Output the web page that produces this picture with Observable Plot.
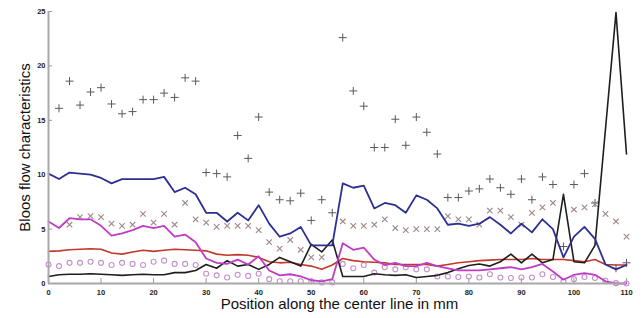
<!DOCTYPE html>
<html>
<head>
<meta charset="utf-8">
<script src="https://cdn.jsdelivr.net/npm/d3@7"></script>
<script src="https://cdn.jsdelivr.net/npm/@observablehq/plot@0.6"></script>
<style>
  html, body { margin: 0; padding: 0; background: #fff; }
</style>
</head>
<body>
<div id="chart"></div>
<script>
const positions = [0,2,4,6,8,10,12,14,16,18,20,22,24,26,28,30,32,34,36,38,40,42,44,46,48,50,52,54,56,58,60,62,64,66,68,70,72,74,76,78,80,82,84,86,88,90,92,94,96,98,100,102,104,106,108,110];

const blueLine = [10.1,9.6,10.2,10.1,10.0,9.7,9.2,9.6,9.6,9.6,9.6,9.8,8.4,8.8,8.2,6.5,6.5,5.7,6.5,5.8,7.2,5.5,4.3,4.6,5.2,3.5,3.5,3.5,9.2,8.8,9.0,6.9,7.4,7.2,6.5,8.1,7.7,6.9,5.4,5.5,5.3,5.5,6.1,5.4,4.6,5.5,4.7,5.9,5.0,2.4,4.3,5.2,4.1,1.75,1.3,1.7];

const magentaLine = [5.7,5.1,6.0,5.9,5.9,5.3,4.4,4.6,4.9,5.3,5.1,5.3,4.3,4.5,3.8,2.3,1.9,1.8,2.2,1.75,2.5,1.2,0.75,0.85,0.65,0.3,0.2,0.4,3.7,3.1,3.3,2.2,1.7,1.9,1.6,1.6,1.9,1.6,1.4,1.2,1.2,1.2,1.3,1.4,1.5,1.3,1.5,1.8,1.1,0.35,0.8,0.95,0.8,0.2,0.0,0.0];

const redLine = [2.95,3.0,3.1,3.15,3.2,3.15,2.8,2.7,2.9,3.05,2.95,3.05,3.15,3.1,3.05,3.0,2.7,2.6,2.65,2.6,2.4,2.0,1.9,1.95,1.75,1.6,1.3,1.7,2.3,2.1,2.0,1.95,1.9,1.75,1.75,1.75,1.75,1.6,1.75,1.9,2.0,2.1,2.15,2.2,2.2,2.2,2.3,2.2,2.2,2.2,2.1,2.0,2.2,1.75,1.7,1.7];

const blackLine = [0.65,0.8,0.85,0.85,0.9,0.85,0.8,0.75,0.8,0.85,0.8,0.8,1.0,1.0,1.2,1.75,1.4,2.1,1.6,1.75,1.3,1.75,2.4,2.0,1.6,3.6,2.9,4.0,0.65,0.65,0.65,0.9,0.8,0.75,0.8,0.55,0.65,0.75,1.0,1.35,1.65,1.8,1.6,2.0,2.7,1.9,2.7,1.9,2.2,8.2,2.0,1.9,3.5,14.2,24.9,11.9];

const circleValues = [1.75,1.6,1.9,1.9,2.0,1.9,1.7,1.9,1.8,1.7,2.0,2.1,1.8,1.8,1.7,0.9,0.75,0.55,0.8,0.7,0.9,0.4,0.2,0.2,0.2,0.2,0.1,0.1,1.8,1.4,1.7,1.0,1.5,1.3,1.5,1.3,1.3,0.65,0.65,0.6,0.65,0.55,0.85,0.55,0.5,0.55,0.55,0.85,0.6,0.2,0.4,0.6,0.5,0.25,0.03,0.0];

const plusPositions = [2,4,6,8,10,12,14,16,18,20,22,24,26,28,30,32,34,36,38,40,42,44,46,48,50,52,54,56,58,60,62,64,66,68,70,72,74,76,78,80,82,84,86,88,90,92,94,96,98,100,102,104,108,110];
const plusValues = [16.1,18.6,16.4,17.6,18.0,16.5,15.6,15.8,16.9,16.9,17.5,17.1,18.9,18.6,10.2,10.1,9.8,13.6,11.5,15.3,8.4,7.7,7.6,8.3,5.8,7.7,6.5,22.6,17.7,16.3,12.5,12.5,15.1,12.7,15.3,13.9,11.9,7.9,7.9,8.5,8.7,9.6,8.8,8.2,9.6,7.7,9.8,9.1,3.4,9.1,10.1,7.4,1.4,1.9];

const timesPositions = [4,6,8,10,12,14,16,18,20,22,24,26,28,30,32,34,36,38,40,42,44,46,48,50,52,56,58,60,62,64,66,68,70,72,74,76,78,80,82,84,86,88,90,92,94,96,100,102,104,106,108,110];
const timesValues = [5.4,6.1,6.2,6.1,5.5,5.3,5.4,6.4,5.6,6.4,5.4,7.4,5.9,5.6,5.2,5.3,5.3,5.3,4.9,3.8,3.2,4.0,3.1,2.4,2.4,5.7,5.3,5.3,5.4,5.9,5.1,4.9,5.0,5.0,5.0,6.2,5.9,5.9,5.4,6.7,6.7,6.1,5.4,6.5,7.0,7.4,6.8,7.0,7.3,6.4,5.7,4.3];

const xTicks = [0,10,20,30,40,50,60,70,80,90,100,110];
const yTicks = [0,5,10,15,20,25];
const xLabel = "Position along the center line in mm";
const yLabel = "Bloos flow characteristics";

const lineRows = (vals) => positions.map((p, i) => ({x: p, y: vals[i]}));
const ptRows = (ps, vals) => ps.map((p, i) => ({x: p, y: vals[i]}));

const chart = Plot.plot({
  width: 642,
  height: 318,
  marginLeft: 48,
  marginRight: 16,
  marginTop: 11,
  marginBottom: 35,
  x: {domain: [0, 110]},
  y: {domain: [0, 25]},
  style: {fontFamily: "'Liberation Sans', Arial, sans-serif", background: "#fff", color: "#111", overflow: "visible"},
  marks: [
    Plot.axisX({ticks: xTicks, tickSize: -5, tickPadding: 11, fontSize: 7.5, fontWeight: "bold", stroke: "#999", fill: "#222", label: null, tickFormat: d => String(d)}),
    Plot.axisY({ticks: yTicks, tickSize: -4, tickPadding: 7, fontSize: 7.5, fontWeight: "bold", stroke: "#999", fill: "#222", label: null, tickFormat: d => String(d)}),
    Plot.dot(ptRows(plusPositions, plusValues), {x: "x", y: "y", symbol: "plus", r: 2.7, stroke: "#5a5a5a", strokeWidth: 1}),
    Plot.dot(ptRows(timesPositions, timesValues), {x: "x", y: "y", symbol: "times", r: 2.6, stroke: "#a08686", strokeWidth: 1.1}),
    Plot.dot(lineRows(circleValues), {x: "x", y: "y", symbol: "circle", r: 2.5, stroke: "#c48fcc", strokeWidth: 1.1, fill: "none"}),
    Plot.line(lineRows(redLine), {x: "x", y: "y", stroke: "#c0392b", strokeWidth: 1.6}),
    Plot.line(lineRows(blackLine), {x: "x", y: "y", stroke: "#1e1e1e", strokeWidth: 1.6}),
    Plot.line(lineRows(magentaLine), {x: "x", y: "y", stroke: "#c03cc6", strokeWidth: 1.8}),
    Plot.line(lineRows(blueLine), {x: "x", y: "y", stroke: "#2d2f93", strokeWidth: 1.8}),
    Plot.ruleX([0], {stroke: "#a8a8a8", strokeWidth: 2}),
    Plot.ruleY([0], {stroke: "#a8a8a8", strokeWidth: 2}),
    Plot.text([xLabel], {frameAnchor: "bottom", dy: 21, dx: 2, fontSize: 15, fill: "#111", lineAnchor: "middle", textAnchor: "middle"}),
    Plot.text([yLabel], {frameAnchor: "left", dx: -23, rotate: -90, fontSize: 15, fill: "#111", lineAnchor: "middle", textAnchor: "middle"})
  ]
});
document.getElementById("chart").appendChild(chart);
</script>
</body>
</html>
